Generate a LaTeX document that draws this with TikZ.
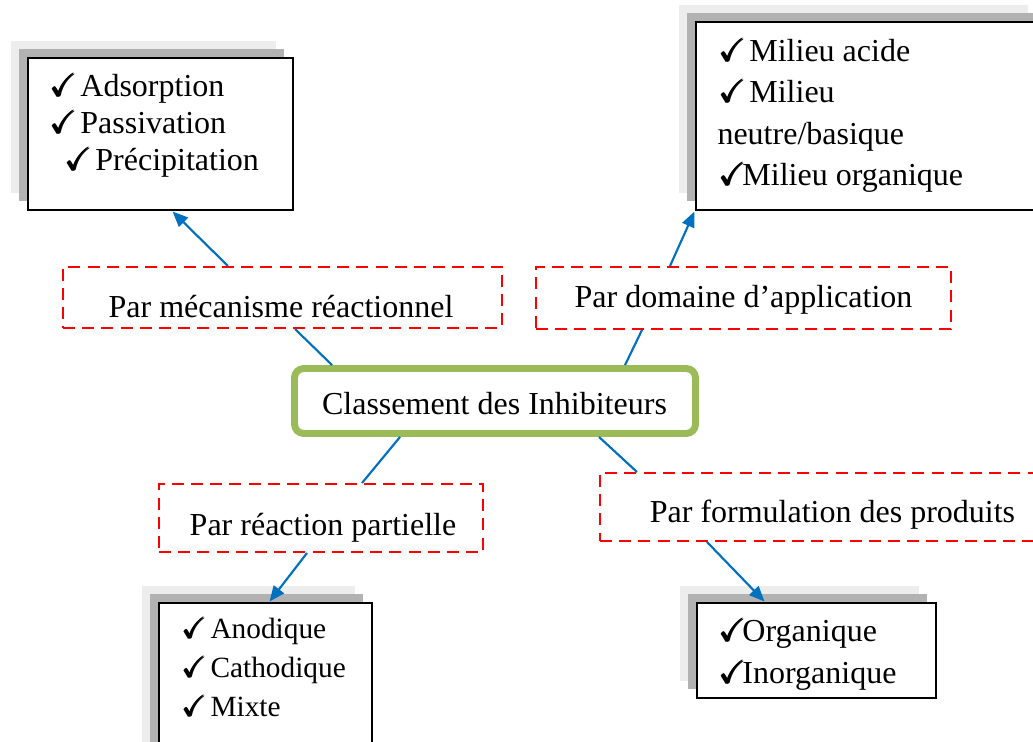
\documentclass[tikz,border=0pt,12pt]{standalone}
\usepackage{fontspec}
\setmainfont{Liberation Serif}
\usepackage{amsmath}
\usepackage{amssymb}
\usetikzlibrary{arrows.meta,shadows,fit,calc}

\definecolor{lienbleu}{HTML}{0070C0}
\definecolor{vertcadre}{HTML}{9BBB59}

\newcommand{\coche}[1]{\makebox[#1][l]{$\pmb{\checkmark}$}}

\tikzset{
	classe/.style={draw=vertcadre, line width=2.6pt, rounded corners=3.5pt, inner sep=0pt},
	critere/.style={draw=red, line width=0.75pt, dash pattern=on 4.5pt off 2.7pt, inner sep=0pt},
	liste/.style={draw=black, line width=1.1pt, fill=white, inner sep=0pt,
		general shadow={fill=black!7, shadow xshift=-6.4pt, shadow yshift=6.4pt},
		general shadow={fill=black!30, shadow xshift=-3.4pt, shadow yshift=3.4pt}},
	ligne/.style={anchor=base west, inner sep=0pt},
	lien/.style={draw=lienbleu, line width=0.8pt},
	fleche/.style={lien, -{Triangle[length=5.8pt,width=4.8pt]}}
}

\begin{document}
\begin{tikzpicture}[x=0.375pt,y=-0.375pt,font=\fontsize{12}{14}\selectfont]
		\clip (0,0) rectangle (1033,742);
		
		% boites des listes
		\node[liste, fit={(28,58) (293,210)}] (listeMeca) {};
		\node[liste, fit={(696,22) (1045,210)}] (listeDomaine) {};
		\node[liste, fit={(159,603) (372,760)}] (listeReaction) {};
		\node[liste, fit={(697,603) (936,698)}] (listeFormulation) {};
		
		% criteres
		\node[critere, fit={(63,267) (502,328)}] (mecanisme) {};
		\node[critere, fit={(536,267) (951,329)}] (domaine) {};
		\node[critere, fit={(159,484) (483,552)}] (reaction) {};
		\node[critere, fit={(600,473) (1045,541)}] (formulation) {};
		
		\node[anchor=base] (mecanismeT) at (281,317) {Par mécanisme réactionnel};
		\node[anchor=base] (domaineT) at (743.5,307) {Par domaine d’application};
		\node[anchor=base] (reactionT) at (323,535) {Par réaction partielle};
		\node[anchor=base] (formulationT) at (832.5,522) {Par formulation des produits};
		
		% centre
		\node[classe, fit={(294.5,368.5) (695.5,433.5)}] (classement) {};
		\node[anchor=base] (classementT) at (494.5,414) {Classement des Inhibiteurs};
		
		% contenu des listes
		\node[ligne] (m1) at (50,96) {\coche{11.2pt}Adsorption};
		\node[ligne] (m2) at (50,133) {\coche{11.2pt}Passivation};
		\node[ligne] (m3) at (65,170) {\coche{11.2pt}Précipitation};
		
		\node[ligne] (d1) at (719,61) {\coche{11.2pt}Milieu acide};
		\node[ligne] (d2) at (719,102) {\coche{11.2pt}Milieu};
		\node[ligne] (d3) at (717,144) {neutre/basique};
		\node[ligne] (d4) at (719,185) {\coche{8.6pt}Milieu organique};
		
		\node[ligne, font=\fontsize{11}{13}\selectfont] (r1) at (182,638) {\coche{10.5pt}Anodique};
		\node[ligne, font=\fontsize{11}{13}\selectfont] (r2) at (182,677) {\coche{10.5pt}Cathodique};
		\node[ligne, font=\fontsize{11}{13}\selectfont] (r3) at (182,716) {\coche{10.5pt}Mixte};
		
		\node[ligne] (f1) at (719,641) {\coche{8.6pt}Organique};
		\node[ligne] (f2) at (719,683) {\coche{8.6pt}Inorganique};
		
		% liens
		\draw[lien] ($(classement.north west)+(41,0)$) -- ($(mecanisme.south west)+(233,0)$);
		\draw[lien] ($(classement.north west)+(334,0)$) -- ($(domaine.south west)+(107,0)$);
		\draw[lien] ($(classement.south west)+(109,0)$) -- ($(reaction.north west)+(204,0)$);
		\draw[lien] ($(classement.south west)+(308,0)$) -- ($(formulation.north west)+(38,0)$);
		
		\draw[fleche] ($(mecanisme.north west)+(166,0)$) -- ($(listeMeca.south west)+(146,0)$);
		\draw[fleche] ($(domaine.north west)+(135,0)$) -- (listeDomaine.south west);
		\draw[fleche] ($(reaction.south west)+(149,0)$) -- ($(listeReaction.north west)+(112,0)$);
		\draw[fleche] ($(formulation.south west)+(108,0)$) -- ($(listeFormulation.north west)+(69,0)$);
		
	\end{tikzpicture}
\end{document}
